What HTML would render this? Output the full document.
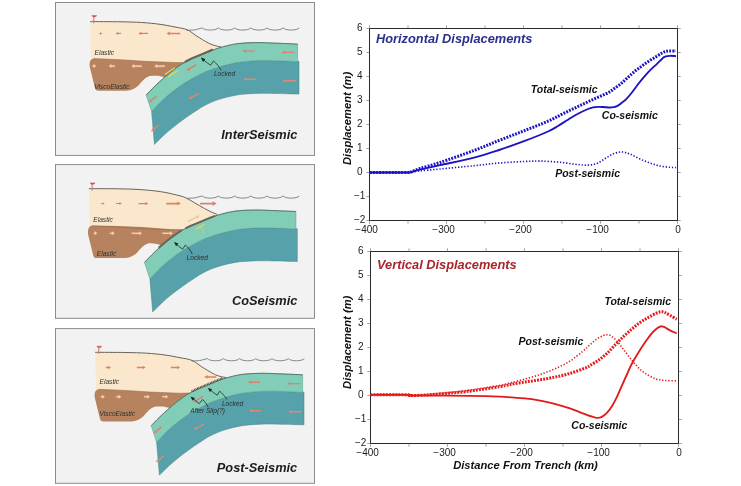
<!DOCTYPE html>
<html lang="en">
<head>
<meta charset="utf-8">
<title>Seismic cycle displacements</title>
<style>
html,body{margin:0;padding:0;background:#fff;}
body{width:741px;height:486px;overflow:hidden;}
svg{display:block;will-change:transform;}
text{font-family:"Liberation Sans",sans-serif;}
.tk{font-size:10px;fill:#222;}
.ttl{font-size:12.8px;font-weight:bold;font-style:italic;}
.lb{font-size:10.5px;font-weight:bold;font-style:italic;fill:#111;}
.ax{font-size:11.2px;font-weight:bold;font-style:italic;fill:#111;}
.sm{font-size:6.6px;font-style:italic;fill:#2c2f2f;}
.pt{font-size:12.8px;font-weight:bold;font-style:italic;fill:#1c1c1c;}
</style>
</head>
<body>
<svg width="741" height="486" viewBox="0 0 741 486">
<rect width="741" height="486" fill="#fff"/>
<rect x="55.5" y="2.5" width="259" height="152.9" fill="#f2f2f2" stroke="#8c8c8c" stroke-width="1"/>
<g transform="translate(0 0)">
<path d="M90.2 21.6C95.17 21.63 111.4 21.65 120 21.8C128.6 21.95 135.13 22.08 141.8 22.5C148.47 22.92 154.47 23.55 160 24.3C165.53 25.05 170.5 26.1 175 27C179.5 27.9 183.4 28.2 187 29.7C190.6 31.2 193.05 33.78 196.6 36C200.15 38.22 205.23 41.4 208.3 43C211.37 44.6 212.88 44.95 215 45.6C217.12 46.25 220 46.68 221 46.9L212 50.6L201.4 55L191 59.3L185 62.4L174 62.5L144.7 61.3L120.4 59.7L93 58.6L90.9 57.5Z" fill="#fbe7cb"/>
<path d="M90.2 21.6C95.17 21.63 111.4 21.65 120 21.8C128.6 21.95 135.13 22.08 141.8 22.5C148.47 22.92 154.47 23.55 160 24.3C165.53 25.05 170.5 26.1 175 27C179.5 27.9 183.4 28.2 187 29.7C190.6 31.2 193.05 33.78 196.6 36C200.15 38.22 205.23 41.4 208.3 43C211.37 44.6 212.88 44.95 215 45.6C217.12 46.25 220 46.68 221 46.9" fill="none" stroke="#6a635a" stroke-width="1"/>
<path d="M93.5 58.6L120.4 59.7L144.7 61.3L174 62.5L185 62.4L181.9 64L173 70.3L164.4 77.4C161 76 157 75.5 149.6 76.1C145 77.5 142 81.5 139 85C135 88.8 131 90.7 126.5 90.7L98.5 90.7C96 90.7 95.2 89 94.8 87.5L89.8 67C89.2 63 90 59 93.5 58.6Z" fill="#b6835e"/>
<path d="M93.5 58.6L120.4 59.7L144.7 61.3L174 62.5L185 62.4" fill="none" stroke="#8a6245" stroke-width="0.5"/>
<path d="M151.6 111.6C153.33 109.75 158.4 103.93 162 100.5C165.6 97.07 169.53 93.87 173.2 91C176.87 88.13 180.38 85.63 184 83.3C187.62 80.97 191.4 78.88 194.9 77C198.4 75.12 201.07 73.63 205 72C208.93 70.37 213.17 68.77 218.5 67.2C223.83 65.63 230.82 63.68 237 62.6C243.18 61.52 249.43 61.02 255.6 60.7C261.77 60.38 267 60.55 274 60.7C281 60.85 293.67 61.45 297.6 61.6L299 61.2L299 94.1L299 94.1C294.83 94 281.23 93.6 274 93.5C266.77 93.4 261.77 93.25 255.6 93.5C249.43 93.75 243.18 93.98 237 95C230.82 96.02 223.83 97.88 218.5 99.6C213.17 101.32 208.93 103.3 205 105.3C201.07 107.3 198.4 109.32 194.9 111.6C191.4 113.88 187.62 116.4 184 119C180.38 121.6 176.62 124.45 173.2 127.2C169.78 129.95 166.63 132.62 163.5 135.5C160.37 138.38 155.92 143 154.4 144.5Z" fill="#57a2aa" stroke="#3f8288" stroke-width="0.5"/>
<path d="M146.2 95C147.5 93.67 151.3 89.63 154 87C156.7 84.37 159.23 81.98 162.4 79.2C165.57 76.42 169.75 72.83 173 70.3C176.25 67.77 178.9 65.83 181.9 64C184.9 62.17 187.75 60.8 191 59.3C194.25 57.8 197.9 56.45 201.4 55C204.9 53.55 208.9 51.83 212 50.6C215.1 49.37 215.83 48.75 220 47.6C224.17 46.45 231.07 44.53 237 43.7C242.93 42.87 249.43 42.7 255.6 42.6C261.77 42.5 267 42.85 274 43.1C281 43.35 293.67 43.93 297.6 44.1L297.6 61.6L297.6 61.6C293.67 61.45 281 60.85 274 60.7C267 60.55 261.77 60.38 255.6 60.7C249.43 61.02 243.18 61.52 237 62.6C230.82 63.68 223.83 65.63 218.5 67.2C213.17 68.77 208.93 70.37 205 72C201.07 73.63 198.4 75.12 194.9 77C191.4 78.88 187.62 80.97 184 83.3C180.38 85.63 176.87 88.13 173.2 91C169.53 93.87 165.6 97.07 162 100.5C158.4 103.93 153.33 109.75 151.6 111.6Z" fill="#82cdb7" stroke="#4f9a8e" stroke-width="0.5"/>
<path d="M146.2 95C147.5 93.67 151.3 89.63 154 87C156.7 84.37 159.23 81.98 162.4 79.2C165.57 76.42 169.75 72.83 173 70.3C176.25 67.77 178.9 65.83 181.9 64C184.9 62.17 187.75 60.8 191 59.3C194.25 57.8 197.9 56.45 201.4 55C204.9 53.55 208.9 51.83 212 50.6C215.1 49.37 215.83 48.75 220 47.6C224.17 46.45 231.07 44.53 237 43.7C242.93 42.87 249.43 42.7 255.6 42.6C261.77 42.5 267 42.85 274 43.1C281 43.35 293.67 43.93 297.6 44.1" fill="none" stroke="#4a5a50" stroke-width="0.7"/>
<path d="M186.6 30.3Q195 30.7 202.2 27.9c2.6 2.9 13.6 2.9 16.2 0c2.6 2.9 13.6 2.9 16.2 0c2.6 2.9 13.6 2.9 16.2 0c2.6 2.9 13.6 2.9 16.2 0c2.6 2.9 13.6 2.9 16.2 0c2.6 2.9 13.6 2.9 16.2 0" fill="none" stroke="#747474" stroke-width="0.85" stroke-linejoin="round"/>
<path d="M93.8 23.3V16.4" stroke="#c97468" stroke-width="1" fill="none"/><path d="M91.9 15.5H96.7L96 16.5L94.6 16.9H93Z" fill="#cc5558" stroke="#cc5558" stroke-width="0.5" stroke-linejoin="round"/>
<text x="94.6" y="55" class="sm">Elastic</text>
<text x="94.2" y="88.6" class="sm">ViscoElastic</text>
<path d="M102.4 32.95H101V31.9L99.2 33.4L101 34.9V33.85H102.4Z" fill="#c9856a"/>
<path d="M121 32.85H118V31.9L115.6 33.4L118 34.9V33.95H121Z" fill="#d08670"/>
<path d="M148 32.7H141.3V31.7L138.3 33.4L141.3 35.1V34.1H148Z" fill="#dd806c"/>
<path d="M180.2 32.65H169.9V31.5L166.5 33.4L169.9 35.3V34.15H180.2Z" fill="#dd806c"/>
<path d="M95.6 65.3H94.6V64.1L92 66.1L94.6 68.1V66.9H95.6Z" fill="#f7dcc4" stroke="#dc9a7c" stroke-width="0.5"/>
<path d="M115 65.3H111.4V64.1L108.8 66.1L111.4 68.1V66.9H115Z" fill="#f7dcc4" stroke="#dc9a7c" stroke-width="0.5"/>
<path d="M141.8 65.3H134.1V64.1L131.5 66.1L134.1 68.1V66.9H141.8Z" fill="#f7dcc4" stroke="#dc9a7c" stroke-width="0.5"/>
<path d="M164.8 65.3H157.1V64.1L154.5 66.1L157.1 68.1V66.9H164.8Z" fill="#f7dcc4" stroke="#dc9a7c" stroke-width="0.5"/>
<path d="M254.6 50.4H245.8V49.4L242.6 51.1L245.8 52.8V51.8H254.6Z" fill="#dd806c"/>
<path d="M294.4 51.7H284.7V50.7L281.5 52.4L284.7 54.1V53.1H294.4Z" fill="#dd806c"/>
<path d="M255.6 78.6H246.7V77.6L243.5 79.3L246.7 81V80H255.6Z" fill="#d98a78"/>
<path d="M296.3 80H285.6V79L282.4 80.7L285.6 82.4V81.4H296.3Z" fill="#d98a78"/>
<path d="M197 67.1H188.8V66.1L185.6 67.8L188.8 69.5V68.5H197Z" fill="#dd806c" transform="rotate(-30 191.3 67.8)"/>
<path d="M199.5 95.5H191.2V94.5L188 96.2L191.2 97.9V96.9H199.5Z" fill="#d98a78" transform="rotate(-26 193.75 96.2)"/>
<path d="M157.6 98.7H150.8V97.7L147.6 99.4L150.8 101.1V100.1H157.6Z" fill="#dd806c" transform="rotate(-40 152.6 99.4)"/>
<path d="M159.8 127.7H153V126.7L149.8 128.4L153 130.1V129.1H159.8Z" fill="#d98a78" transform="rotate(-40 154.8 128.4)"/>
<path d="M164.8 74.6L174.9 67.7M167.9 77.2L177.7 70.5" stroke="#e8d552" stroke-width="1.2" fill="none"/>
<path d="M184.8 62L191 58.7L201.4 54.4L212.8 49.5" stroke="#6a625b" stroke-width="2" fill="none"/>
<path d="M221.3 70.3C219 66.5 216.5 63.5 213.5 60.9L210.6 65.2C208 63.6 205.4 61.5 203.2 59.7" stroke="#1f332e" stroke-width="0.85" fill="none" stroke-linejoin="round"/><path d="M200.9 57.6L205.3 59.1L203 61.9Z" fill="#15231f"/>
<text x="213.9" y="76" class="sm">Locked</text>
</g>
<text x="297.4" y="138.8" class="pt" text-anchor="end">InterSeismic</text>
<rect x="55.5" y="164.6" width="259" height="153.7" fill="#f2f2f2" stroke="#8c8c8c" stroke-width="1"/>
<g transform="translate(-1.7 167.4)">
<path d="M90.6 21.3C95.5 21.32 111.47 21.25 120 21.4C128.53 21.55 134.8 21.73 141.8 22.2C148.8 22.67 155.97 23.32 162 24.2C168.03 25.08 173.83 26.5 178 27.5C182.17 28.5 183.9 28.85 187 30.2C190.1 31.55 193.43 33.8 196.6 35.6C199.77 37.4 203.27 39.5 206 41C208.73 42.5 210.83 43.6 213 44.6C215.17 45.6 218 46.6 219 47L221 48.2L212 50.6L201.4 55L191 59.3L185 62.4L174 61.9L163.7 61L144.7 59.5L120.4 58.6L93 58.2L91.3 57Z" fill="#fbe7cb"/>
<path d="M90.6 21.3C95.5 21.32 111.47 21.25 120 21.4C128.53 21.55 134.8 21.73 141.8 22.2C148.8 22.67 155.97 23.32 162 24.2C168.03 25.08 173.83 26.5 178 27.5C182.17 28.5 183.9 28.85 187 30.2C190.1 31.55 193.43 33.8 196.6 35.6C199.77 37.4 203.27 39.5 206 41C208.73 42.5 210.83 43.6 213 44.6C215.17 45.6 218 46.6 219 47" fill="none" stroke="#6a635a" stroke-width="1"/>
<path d="M93.5 58.2L120.4 58.6L144.7 59.5L163.7 61L174 61.9L185.5 62.2L181.9 64.4L173 70.6L164 78C160 77 154 75.2 149.6 76.1C145 77.5 142 81.5 139 85C135 88.8 131 90.7 126.5 90.7L98.5 90.7C96 90.7 95.2 89 94.8 87.5L89.8 67C89.2 63 90 59 93.5 58.2Z" fill="#b6835e"/>
<path d="M93.5 58.6L120.4 59.7L144.7 61.3L174 62.5L185 62.4" fill="none" stroke="#8a6245" stroke-width="0.5"/>
<path d="M151.6 111.6C153.33 109.75 158.4 103.93 162 100.5C165.6 97.07 169.53 93.87 173.2 91C176.87 88.13 180.38 85.63 184 83.3C187.62 80.97 191.4 78.88 194.9 77C198.4 75.12 201.07 73.63 205 72C208.93 70.37 213.17 68.77 218.5 67.2C223.83 65.63 230.82 63.68 237 62.6C243.18 61.52 249.43 61.02 255.6 60.7C261.77 60.38 267 60.55 274 60.7C281 60.85 293.67 61.45 297.6 61.6L299 61.2L299 94.1L299 94.1C294.83 94 281.23 93.6 274 93.5C266.77 93.4 261.77 93.25 255.6 93.5C249.43 93.75 243.18 93.98 237 95C230.82 96.02 223.83 97.88 218.5 99.6C213.17 101.32 208.93 103.3 205 105.3C201.07 107.3 198.4 109.32 194.9 111.6C191.4 113.88 187.62 116.4 184 119C180.38 121.6 176.62 124.45 173.2 127.2C169.78 129.95 166.63 132.62 163.5 135.5C160.37 138.38 155.92 143 154.4 144.5Z" fill="#57a2aa" stroke="#3f8288" stroke-width="0.5"/>
<path d="M146.2 95C147.5 93.67 151.3 89.63 154 87C156.7 84.37 159.23 81.98 162.4 79.2C165.57 76.42 169.75 72.83 173 70.3C176.25 67.77 178.9 65.83 181.9 64C184.9 62.17 187.75 60.8 191 59.3C194.25 57.8 197.9 56.45 201.4 55C204.9 53.55 208.9 51.83 212 50.6C215.1 49.37 215.83 48.75 220 47.6C224.17 46.45 231.07 44.53 237 43.7C242.93 42.87 249.43 42.7 255.6 42.6C261.77 42.5 267 42.85 274 43.1C281 43.35 293.67 43.93 297.6 44.1L297.6 61.6L297.6 61.6C293.67 61.45 281 60.85 274 60.7C267 60.55 261.77 60.38 255.6 60.7C249.43 61.02 243.18 61.52 237 62.6C230.82 63.68 223.83 65.63 218.5 67.2C213.17 68.77 208.93 70.37 205 72C201.07 73.63 198.4 75.12 194.9 77C191.4 78.88 187.62 80.97 184 83.3C180.38 85.63 176.87 88.13 173.2 91C169.53 93.87 165.6 97.07 162 100.5C158.4 103.93 153.33 109.75 151.6 111.6Z" fill="#82cdb7" stroke="#4f9a8e" stroke-width="0.5"/>
<path d="M146.2 95C147.5 93.67 151.3 89.63 154 87C156.7 84.37 159.23 81.98 162.4 79.2C165.57 76.42 169.75 72.83 173 70.3C176.25 67.77 178.9 65.83 181.9 64C184.9 62.17 187.75 60.8 191 59.3C194.25 57.8 197.9 56.45 201.4 55C204.9 53.55 208.9 51.83 212 50.6C215.1 49.37 215.83 48.75 220 47.6C224.17 46.45 231.07 44.53 237 43.7C242.93 42.87 249.43 42.7 255.6 42.6C261.77 42.5 267 42.85 274 43.1C281 43.35 293.67 43.93 297.6 44.1" fill="none" stroke="#4a5a50" stroke-width="0.7"/>
<path d="M188.2 30.95Q196.6 31.35 203.8 28.55c2.6 2.9 13.6 2.9 16.2 0c2.6 2.9 13.6 2.9 16.2 0c2.6 2.9 13.6 2.9 16.2 0c2.6 2.9 13.6 2.9 16.2 0c2.6 2.9 13.6 2.9 16.2 0c2.6 2.9 13.6 2.9 16.2 0" fill="none" stroke="#747474" stroke-width="0.85" stroke-linejoin="round"/>
<path d="M93.8 23.3V16.4" stroke="#c97468" stroke-width="1" fill="none"/><path d="M91.9 15.5H96.7L96 16.5L94.6 16.9H93Z" fill="#cc5558" stroke="#cc5558" stroke-width="0.5" stroke-linejoin="round"/>
<text x="95" y="55" class="sm">Elastic</text>
<text x="98.5" y="88.4" class="sm">Elastic</text>
<path d="M102.5 35.8H104.3V34.8L106.3 36.2L104.3 37.6V36.6H102.5Z" fill="#dd806c"/>
<path d="M117.6 35.7H121V34.7L123.6 36.2L121 37.7V36.7H117.6Z" fill="#dd806c"/>
<path d="M140.3 35.55H147V34.5L150 36.2L147 37.9V36.85H140.3Z" fill="#dd806c"/>
<path d="M168 35.4H179V34.2L182.6 36.2L179 38.2V37H168Z" fill="#dd806c"/>
<path d="M201.8 35.25H214.2V33.8L218.4 36.2L214.2 38.6V37.15H201.8Z" fill="#dd806c"/>
<path d="M95.6 65H96.4V63.8L99 65.8L96.4 67.8V66.6H95.6Z" fill="#f7dcc4" stroke="#dc9a7c" stroke-width="0.5"/>
<path d="M111.6 65H113.8V63.8L116.4 65.8L113.8 67.8V66.6H111.6Z" fill="#f7dcc4" stroke="#dc9a7c" stroke-width="0.5"/>
<path d="M133.4 65H141V63.8L143.6 65.8L141 67.8V66.6H133.4Z" fill="#f7dcc4" stroke="#dc9a7c" stroke-width="0.5"/>
<path d="M164 65H171.8V63.8L174.4 65.8L171.8 67.8V66.6H164Z" fill="#f7dcc4" stroke="#dc9a7c" stroke-width="0.5"/>
<path d="M160.3 80.4L166 75.6L173 70.1L181.9 63.9L183.4 63" stroke="#6a625b" stroke-width="1.9" fill="none"/>
<path d="M187.2 61L191 59L201.4 54.7L212 50.3L216.8 48.4" stroke="#6a625b" stroke-width="1.9" fill="none"/>
<path d="M188.8 50.55H198.8V49.5L201.8 51.2L198.8 52.9V51.85H188.8Z" fill="#e6c698" transform="rotate(-27 195.3 51.2)"/>
<path d="M196.9 62.3L206.1 56.8" stroke="#e8d552" stroke-width="1.1" fill="none"/><path d="M202.9 58.8L205.3 66.2" stroke="#dcd47a" stroke-width="0.9" fill="none" opacity="0.7"/>
<g transform="translate(-1.5 1.2)"><path d="M195.4 85.5C193.6 81.6 191.4 78.8 188.6 76.4L185.8 80.6C183.3 78.8 181.2 77 179.4 75.4" stroke="#1f332e" stroke-width="0.85" fill="none" stroke-linejoin="round"/><path d="M177.2 73.3L181.6 74.8L179.3 77.6Z" fill="#15231f"/></g>
<text x="188.3" y="92.7" class="sm">Locked</text>
</g>
<text x="297.4" y="305.3" class="pt" text-anchor="end">CoSeismic</text>
<rect x="55.5" y="328.6" width="259" height="154.7" fill="#f2f2f2" stroke="#8c8c8c" stroke-width="1"/>
<g transform="translate(5 330.7)">
<path d="M90.2 21.6C95.17 21.63 111.4 21.65 120 21.8C128.6 21.95 135.13 22.08 141.8 22.5C148.47 22.92 154.47 23.55 160 24.3C165.53 25.05 170.5 26.1 175 27C179.5 27.9 183.4 28.2 187 29.7C190.6 31.2 193.05 33.78 196.6 36C200.15 38.22 205.23 41.4 208.3 43C211.37 44.6 212.88 44.95 215 45.6C217.12 46.25 220 46.68 221 46.9L212 50.6L201.4 55L191 59.3L185 62.4L174 62.5L144.7 61.3L120.4 59.7L93 58.6L90.9 57.5Z" fill="#fbe7cb"/>
<path d="M90.2 21.6C95.17 21.63 111.4 21.65 120 21.8C128.6 21.95 135.13 22.08 141.8 22.5C148.47 22.92 154.47 23.55 160 24.3C165.53 25.05 170.5 26.1 175 27C179.5 27.9 183.4 28.2 187 29.7C190.6 31.2 193.05 33.78 196.6 36C200.15 38.22 205.23 41.4 208.3 43C211.37 44.6 212.88 44.95 215 45.6C217.12 46.25 220 46.68 221 46.9" fill="none" stroke="#6a635a" stroke-width="1"/>
<path d="M93.5 58.6L120.4 59.7L144.7 61.3L174 62.5L185 62.4L181.9 64L173 70.3L164.4 77.4C161 76 157 75.5 149.6 76.1C145 77.5 142 81.5 139 85C135 88.8 131 90.7 126.5 90.7L98.5 90.7C96 90.7 95.2 89 94.8 87.5L89.8 67C89.2 63 90 59 93.5 58.6Z" fill="#b6835e"/>
<path d="M93.5 58.6L120.4 59.7L144.7 61.3L174 62.5L185 62.4" fill="none" stroke="#8a6245" stroke-width="0.5"/>
<path d="M151.6 111.6C153.33 109.75 158.4 103.93 162 100.5C165.6 97.07 169.53 93.87 173.2 91C176.87 88.13 180.38 85.63 184 83.3C187.62 80.97 191.4 78.88 194.9 77C198.4 75.12 201.07 73.63 205 72C208.93 70.37 213.17 68.77 218.5 67.2C223.83 65.63 230.82 63.68 237 62.6C243.18 61.52 249.43 61.02 255.6 60.7C261.77 60.38 267 60.55 274 60.7C281 60.85 293.67 61.45 297.6 61.6L299 61.2L299 94.1L299 94.1C294.83 94 281.23 93.6 274 93.5C266.77 93.4 261.77 93.25 255.6 93.5C249.43 93.75 243.18 93.98 237 95C230.82 96.02 223.83 97.88 218.5 99.6C213.17 101.32 208.93 103.3 205 105.3C201.07 107.3 198.4 109.32 194.9 111.6C191.4 113.88 187.62 116.4 184 119C180.38 121.6 176.62 124.45 173.2 127.2C169.78 129.95 166.63 132.62 163.5 135.5C160.37 138.38 155.92 143 154.4 144.5Z" fill="#57a2aa" stroke="#3f8288" stroke-width="0.5"/>
<path d="M146.2 95C147.5 93.67 151.3 89.63 154 87C156.7 84.37 159.23 81.98 162.4 79.2C165.57 76.42 169.75 72.83 173 70.3C176.25 67.77 178.9 65.83 181.9 64C184.9 62.17 187.75 60.8 191 59.3C194.25 57.8 197.9 56.45 201.4 55C204.9 53.55 208.9 51.83 212 50.6C215.1 49.37 215.83 48.75 220 47.6C224.17 46.45 231.07 44.53 237 43.7C242.93 42.87 249.43 42.7 255.6 42.6C261.77 42.5 267 42.85 274 43.1C281 43.35 293.67 43.93 297.6 44.1L297.6 61.6L297.6 61.6C293.67 61.45 281 60.85 274 60.7C267 60.55 261.77 60.38 255.6 60.7C249.43 61.02 243.18 61.52 237 62.6C230.82 63.68 223.83 65.63 218.5 67.2C213.17 68.77 208.93 70.37 205 72C201.07 73.63 198.4 75.12 194.9 77C191.4 78.88 187.62 80.97 184 83.3C180.38 85.63 176.87 88.13 173.2 91C169.53 93.87 165.6 97.07 162 100.5C158.4 103.93 153.33 109.75 151.6 111.6Z" fill="#82cdb7" stroke="#4f9a8e" stroke-width="0.5"/>
<path d="M146.2 95C147.5 93.67 151.3 89.63 154 87C156.7 84.37 159.23 81.98 162.4 79.2C165.57 76.42 169.75 72.83 173 70.3C176.25 67.77 178.9 65.83 181.9 64C184.9 62.17 187.75 60.8 191 59.3C194.25 57.8 197.9 56.45 201.4 55C204.9 53.55 208.9 51.83 212 50.6C215.1 49.37 215.83 48.75 220 47.6C224.17 46.45 231.07 44.53 237 43.7C242.93 42.87 249.43 42.7 255.6 42.6C261.77 42.5 267 42.85 274 43.1C281 43.35 293.67 43.93 297.6 44.1" fill="none" stroke="#4a5a50" stroke-width="0.7"/>
<path d="M186.6 30.3Q195 30.7 202.2 27.9c2.6 2.9 13.6 2.9 16.2 0c2.6 2.9 13.6 2.9 16.2 0c2.6 2.9 13.6 2.9 16.2 0c2.6 2.9 13.6 2.9 16.2 0c2.6 2.9 13.6 2.9 16.2 0c2.6 2.9 13.6 2.9 16.2 0" fill="none" stroke="#747474" stroke-width="0.85" stroke-linejoin="round"/>
<path d="M93.8 23.3V16.4" stroke="#c97468" stroke-width="1" fill="none"/><path d="M91.9 15.5H96.7L96 16.5L94.6 16.9H93Z" fill="#cc5558" stroke="#cc5558" stroke-width="0.5" stroke-linejoin="round"/>
<text x="94.6" y="53.8" class="sm">Elastic</text>
<text x="94.6" y="85.8" class="sm">ViscoElastic</text>
<path d="M100.9 36.15H103.2V35.1L106 36.8L103.2 38.5V37.45H100.9Z" fill="#dd806c"/>
<path d="M131.8 36.15H137.8V35.1L140.6 36.8L137.8 38.5V37.45H131.8Z" fill="#dd806c"/>
<path d="M165.8 36.15H172.2V35.1L175 36.8L172.2 38.5V37.45H165.8Z" fill="#dd806c"/>
<path d="M95.8 65.3H97.2V64.1L99.8 66.1L97.2 68.1V66.9H95.8Z" fill="#f7dcc4" stroke="#dc9a7c" stroke-width="0.5"/>
<path d="M111.2 65.3H113.7V64.1L116.3 66.1L113.7 68.1V66.9H111.2Z" fill="#f7dcc4" stroke="#dc9a7c" stroke-width="0.5"/>
<path d="M139 65.3H142.1V64.1L144.7 66.1L142.1 68.1V66.9H139Z" fill="#f7dcc4" stroke="#dc9a7c" stroke-width="0.5"/>
<path d="M157.2 65.3H160.6V64.1L163.2 66.1L160.6 68.1V66.9H157.2Z" fill="#f7dcc4" stroke="#dc9a7c" stroke-width="0.5"/>
<path d="M211.2 45.45H202.5V44.4L199.3 46.2L202.5 48V46.95H211.2Z" fill="#dd806c"/>
<path d="M255 50.88H246.2V49.88L243 51.58L246.2 53.28V52.28H255Z" fill="#dd806c"/>
<path d="M295.2 52.18H285.5V51.18L282.3 52.88L285.5 54.58V53.58H295.2Z" fill="#dd806c"/>
<path d="M256 79.4H247.1V78.4L243.9 80.1L247.1 81.8V80.8H256Z" fill="#d98a78"/>
<path d="M297.1 80.32H286.4V79.32L283.2 81.02L286.4 82.72V81.72H297.1Z" fill="#d98a78"/>
<path d="M198.92 67.9H190.72V66.9L187.52 68.6L190.72 70.3V69.3H198.92Z" fill="#dd806c" transform="rotate(-30 193.22 68.6)"/>
<path d="M199.5 95.5H191.2V94.5L188 96.2L191.2 97.9V96.9H199.5Z" fill="#d98a78" transform="rotate(-26 193.75 96.2)"/>
<path d="M157.6 98.7H150.8V97.7L147.6 99.4L150.8 101.1V100.1H157.6Z" fill="#dd806c" transform="rotate(-40 152.6 99.4)"/>
<path d="M159.8 127.7H153V126.7L149.8 128.4L153 130.1V129.1H159.8Z" fill="#d98a78" transform="rotate(-40 154.8 128.4)"/>
<path d="M186.6 60.7L191 58.4L201.4 54L212 49.6L217.6 47.3" stroke="#4a403a" stroke-width="2" stroke-dasharray="0.9 0.65" fill="none"/>
<path d="M222 68.8C219.6 65 217 62.4 214.6 60.5L212.3 64.5C209.6 62.8 207.2 61 205.2 59.2" stroke="#1f332e" stroke-width="0.85" fill="none" stroke-linejoin="round"/><path d="M202.8 57.2L207.2 58.6L204.9 61.4Z" fill="#15231f"/>
<path d="M203.3 76.7C201.6 73.4 199.8 70.8 197.6 68.8L194.2 73C191.8 71.2 189.6 69.4 187.9 67.8" stroke="#1f332e" stroke-width="0.85" fill="none" stroke-linejoin="round"/><path d="M185.5 65.8L189.9 67.2L187.6 70Z" fill="#15231f"/>
<text x="216.9" y="75" class="sm">Locked</text>
<text x="185.2" y="82.8" class="sm">After Slip(?)</text>
</g>
<text x="297.2" y="472" class="pt" text-anchor="end">Post-Seismic</text>
<rect x="369.5" y="28.5" width="308" height="192" fill="#fff" stroke="#2a2a2a" stroke-width="1"/>
<path d="M366.3 28.5H369.5M677.5 28.5h3.2M366.3 52.5H369.5M677.5 52.5h3.2M366.3 76.5H369.5M677.5 76.5h3.2M366.3 100.5H369.5M677.5 100.5h3.2M366.3 124.5H369.5M677.5 124.5h3.2M366.3 148.5H369.5M677.5 148.5h3.2M366.3 172.5H369.5M677.5 172.5h3.2M366.3 196.5H369.5M677.5 196.5h3.2M366.3 220.5H369.5M677.5 220.5h3.2M369.5 25.3V28.5M369.5 220.5v3.2M408 25.3V28.5M408 220.5v3.2M446.5 25.3V28.5M446.5 220.5v3.2M485 25.3V28.5M485 220.5v3.2M523.5 25.3V28.5M523.5 220.5v3.2M562 25.3V28.5M562 220.5v3.2M600.5 25.3V28.5M600.5 220.5v3.2M639 25.3V28.5M639 220.5v3.2M677.5 25.3V28.5M677.5 220.5v3.2" stroke="#666" stroke-width="0.6" fill="none"/>
<text x="359.7" y="31.4" text-anchor="middle" class="tk">6</text>
<text x="359.7" y="55.4" text-anchor="middle" class="tk">5</text>
<text x="359.7" y="79.4" text-anchor="middle" class="tk">4</text>
<text x="359.7" y="103.4" text-anchor="middle" class="tk">3</text>
<text x="359.7" y="127.4" text-anchor="middle" class="tk">2</text>
<text x="359.7" y="151.4" text-anchor="middle" class="tk">1</text>
<text x="359.7" y="175.4" text-anchor="middle" class="tk">0</text>
<text x="359.7" y="199.4" text-anchor="middle" class="tk">−1</text>
<text x="359.7" y="223.4" text-anchor="middle" class="tk">−2</text>
<text x="377.9" y="233.1" text-anchor="end" class="tk">−400</text>
<text x="454.9" y="233.1" text-anchor="end" class="tk">−300</text>
<text x="531.9" y="233.1" text-anchor="end" class="tk">−200</text>
<text x="608.9" y="233.1" text-anchor="end" class="tk">−100</text>
<text x="678" y="233.1" text-anchor="middle" class="tk">0</text>
<path d="M370 172.5C374.17 172.5 388.67 172.5 395 172.5C401.33 172.5 405.33 172.58 408 172.5C410.67 172.42 409 172.67 411 172C413 171.33 415.17 170.08 420 168.5C424.83 166.92 431 165.5 440 162.5C449 159.5 464.17 154.17 474 150.5C483.83 146.83 490.67 143.78 499 140.5C507.33 137.22 515.83 134.02 524 130.8C532.17 127.58 541.5 124.05 548 121.2C554.5 118.35 558 116.15 563 113.7C568 111.25 573 108.87 578 106.5C583 104.13 588 101.78 593 99.5C598 97.22 604.5 94.58 608 92.8C611.5 91.02 611.83 90.33 614 88.8C616.17 87.27 618.67 85.52 621 83.6C623.33 81.68 625.67 79.37 628 77.3C630.33 75.23 632.67 73.1 635 71.2C637.33 69.3 639.67 67.6 642 65.9C644.33 64.2 646.67 62.52 649 61C651.33 59.48 653.9 58.1 656 56.8C658.1 55.5 659.97 54.1 661.6 53.2C663.23 52.3 664.4 51.78 665.8 51.4C667.2 51.02 668.3 50.95 670 50.9C671.7 50.85 675 51.07 676 51.1" fill="none" stroke="#1a14c2" stroke-width="3" stroke-dasharray="1.85 1.25"/>
<path d="M370 172.5C374.17 172.5 388.67 172.5 395 172.5C401.33 172.5 405.33 172.55 408 172.5C410.67 172.45 409 172.47 411 172.2C413 171.93 415.17 171.43 420 170.9C424.83 170.37 431 169.87 440 169C449 168.13 464.17 166.7 474 165.7C483.83 164.7 490.67 163.7 499 163C507.33 162.3 517.17 161.82 524 161.5C530.83 161.18 534 160.97 540 161.1C546 161.23 553.33 161.68 560 162.3C566.67 162.92 575 164.35 580 164.8C585 165.25 587 165.3 590 165C593 164.7 595.33 164.17 598 163C600.67 161.83 603.33 159.57 606 158C608.67 156.43 611.33 154.6 614 153.6C616.67 152.6 619.33 151.93 622 152C624.67 152.07 627 152.83 630 154C633 155.17 636.67 157.5 640 159C643.33 160.5 646.67 161.83 650 163C653.33 164.17 656.67 165.28 660 166C663.33 166.72 667.33 167.03 670 167.3C672.67 167.57 675 167.55 676 167.6" fill="none" stroke="#1a14c2" stroke-width="1.6" stroke-dasharray="1.3 1.8" stroke-dashoffset="1.6"/>
<path d="M370 172.5C374.17 172.5 388.67 172.5 395 172.5C401.33 172.5 405.33 172.57 408 172.5C410.67 172.43 409 172.57 411 172.1C413 171.63 415.17 170.85 420 169.7C424.83 168.55 431 167.22 440 165.2C449 163.18 464.17 160.13 474 157.6C483.83 155.07 490.67 152.73 499 150C507.33 147.27 515.83 144.28 524 141.2C532.17 138.12 542.33 134.03 548 131.5C553.67 128.97 554.67 127.97 558 126C561.33 124.03 564.67 121.75 568 119.7C571.33 117.65 574.67 115.48 578 113.7C581.33 111.92 585.5 110.05 588 109C590.5 107.95 591.33 107.75 593 107.4C594.67 107.05 596.33 106.97 598 106.9C599.67 106.83 601 106.9 603 107C605 107.1 608.17 107.48 610 107.5C611.83 107.52 612.92 107.28 614 107.1C615.08 106.92 615.57 106.83 616.5 106.4C617.43 105.97 618.68 105.15 619.6 104.5C620.52 103.85 620.93 103.35 622 102.5C623.07 101.65 624.35 101.07 626 99.4C627.65 97.73 629.97 94.93 631.9 92.5C633.83 90.07 635.72 87.25 637.6 84.8C639.48 82.35 641.1 80.25 643.2 77.8C645.3 75.35 647.9 72.43 650.2 70.1C652.5 67.77 655 65.7 657 63.8C659 61.9 660.87 59.9 662.2 58.7C663.53 57.5 663.7 57.08 665 56.6C666.3 56.12 668.17 55.88 670 55.8C671.83 55.72 675 56.05 676 56.1" fill="none" stroke="#1a14c2" stroke-width="1.85" stroke-linejoin="round"/>
<text x="376" y="42.7" class="ttl" fill="#2b2f8e">Horizontal Displacements</text>
<text x="530.8" y="92.8" class="lb">Total-seismic</text>
<text x="601.8" y="119" class="lb">Co-seismic</text>
<text x="555.2" y="177.2" class="lb">Post-seismic</text>
<text transform="translate(351 118.4) rotate(-90)" text-anchor="middle" class="ax">Displacement (m)</text>
<rect x="370.5" y="251.5" width="308" height="192" fill="#fff" stroke="#2a2a2a" stroke-width="1"/>
<path d="M367.3 251.5H370.5M678.5 251.5h3.2M367.3 275.5H370.5M678.5 275.5h3.2M367.3 299.5H370.5M678.5 299.5h3.2M367.3 323.5H370.5M678.5 323.5h3.2M367.3 347.5H370.5M678.5 347.5h3.2M367.3 371.5H370.5M678.5 371.5h3.2M367.3 395.5H370.5M678.5 395.5h3.2M367.3 419.5H370.5M678.5 419.5h3.2M367.3 443.5H370.5M678.5 443.5h3.2M370.5 248.3V251.5M370.5 443.5v3.2M409 248.3V251.5M409 443.5v3.2M447.5 248.3V251.5M447.5 443.5v3.2M486 248.3V251.5M486 443.5v3.2M524.5 248.3V251.5M524.5 443.5v3.2M563 248.3V251.5M563 443.5v3.2M601.5 248.3V251.5M601.5 443.5v3.2M640 248.3V251.5M640 443.5v3.2M678.5 248.3V251.5M678.5 443.5v3.2" stroke="#666" stroke-width="0.6" fill="none"/>
<text x="360.7" y="254.4" text-anchor="middle" class="tk">6</text>
<text x="360.7" y="278.4" text-anchor="middle" class="tk">5</text>
<text x="360.7" y="302.4" text-anchor="middle" class="tk">4</text>
<text x="360.7" y="326.4" text-anchor="middle" class="tk">3</text>
<text x="360.7" y="350.4" text-anchor="middle" class="tk">2</text>
<text x="360.7" y="374.4" text-anchor="middle" class="tk">1</text>
<text x="360.7" y="398.4" text-anchor="middle" class="tk">0</text>
<text x="360.7" y="422.4" text-anchor="middle" class="tk">−1</text>
<text x="360.7" y="446.4" text-anchor="middle" class="tk">−2</text>
<text x="378.9" y="456.1" text-anchor="end" class="tk">−400</text>
<text x="455.9" y="456.1" text-anchor="end" class="tk">−300</text>
<text x="532.9" y="456.1" text-anchor="end" class="tk">−200</text>
<text x="609.9" y="456.1" text-anchor="end" class="tk">−100</text>
<text x="679" y="456.1" text-anchor="middle" class="tk">0</text>
<path d="M370.5 394.8C376.75 394.8 401.42 394.67 408 394.8C414.58 394.93 407.17 395.57 410 395.6C412.83 395.63 420 395.3 425 395C430 394.7 433.17 394.37 440 393.8C446.83 393.23 456 392.8 466 391.6C476 390.4 491.45 388 500 386.6C508.55 385.2 511.53 384.2 517.3 383.2C523.07 382.2 528.85 381.52 534.6 380.6C540.35 379.68 546.05 378.85 551.8 377.7C557.55 376.55 563.33 375.38 569.1 373.7C574.87 372.02 582.92 368.97 586.4 367.6C589.88 366.23 588.02 366.72 590 365.5C591.98 364.28 595.52 362.27 598.3 360.3C601.08 358.33 603.92 356.25 606.7 353.7C609.48 351.15 612.23 347.83 615 345C617.77 342.17 620.52 339.33 623.3 336.7C626.08 334.07 628.92 331.57 631.7 329.2C634.48 326.83 637.23 324.45 640 322.5C642.77 320.55 645.52 319.08 648.3 317.5C651.08 315.92 654.47 313.97 656.7 313C658.93 312.03 660.32 311.78 661.7 311.7C663.08 311.62 663.62 311.9 665 312.5C666.38 313.1 668.05 314.18 670 315.3C671.95 316.42 675.58 318.55 676.7 319.2" fill="none" stroke="#e41a1a" stroke-width="3" stroke-dasharray="1.85 1.25"/>
<path d="M370.5 394.8C376.75 394.8 401.42 394.67 408 394.8C414.58 394.93 407.17 395.6 410 395.6C412.83 395.6 420 395.17 425 394.8C430 394.43 433.17 394.1 440 393.4C446.83 392.7 456 391.95 466 390.6C476 389.25 491.45 386.88 500 385.3C508.55 383.72 511.53 382.6 517.3 381.1C523.07 379.6 528.85 378.12 534.6 376.3C540.35 374.48 546.05 372.65 551.8 370.2C557.55 367.75 563.92 364.77 569.1 361.6C574.28 358.43 579.42 354.02 582.9 351.2C586.38 348.38 587.7 346.7 590 344.7C592.3 342.7 594.48 340.73 596.7 339.2C598.92 337.67 601.63 336.25 603.3 335.5C604.97 334.75 605.45 334.65 606.7 334.7C607.95 334.75 609.13 334.78 610.8 335.8C612.47 336.82 614.62 338.57 616.7 340.8C618.78 343.03 620.8 346 623.3 349.2C625.8 352.4 628.92 356.67 631.7 360C634.48 363.33 637.23 366.65 640 369.2C642.77 371.75 645.52 373.63 648.3 375.3C651.08 376.97 653.92 378.33 656.7 379.2C659.48 380.07 661.67 380.23 665 380.5C668.33 380.77 674.75 380.75 676.7 380.8" fill="none" stroke="#e41a1a" stroke-width="1.6" stroke-dasharray="1.3 1.8" stroke-dashoffset="1.6"/>
<path d="M370.5 394.8C376.75 394.8 401.42 394.67 408 394.8C414.58 394.93 404.67 395.47 410 395.6C415.33 395.73 430 395.57 440 395.6C450 395.63 460 395.62 470 395.8C480 395.98 492.12 396.35 500 396.7C507.88 397.05 511.53 397.42 517.3 397.9C523.07 398.38 528.85 398.73 534.6 399.6C540.35 400.47 546.05 401.67 551.8 403.1C557.55 404.53 563.92 406.48 569.1 408.2C574.28 409.92 579.42 412.1 582.9 413.4C586.38 414.7 587.72 415.27 590 416C592.28 416.73 594.63 417.65 596.6 417.8C598.57 417.95 600.05 417.75 601.8 416.9C603.55 416.05 605.33 414.62 607.1 412.7C608.87 410.78 610.87 407.82 612.4 405.4C613.93 402.98 614.77 401.38 616.3 398.2C617.83 395.02 619.83 390.25 621.6 386.3C623.37 382.35 625.15 378.33 626.9 374.5C628.65 370.67 629.92 367.38 632.1 363.3C634.28 359.22 637.57 353.88 640 350C642.43 346.12 644.48 343.05 646.7 340C648.92 336.95 651.5 333.7 653.3 331.7C655.1 329.7 656.38 328.83 657.5 328C658.62 327.17 659.25 326.98 660 326.7C660.75 326.42 661.33 326.27 662 326.3C662.67 326.33 663.33 326.62 664 326.9C664.67 327.18 665 327.43 666 328C667 328.57 668.22 329.42 670 330.3C671.78 331.18 675.58 332.8 676.7 333.3" fill="none" stroke="#e41a1a" stroke-width="1.85" stroke-linejoin="round"/>
<text x="377" y="269.4" class="ttl" fill="#a8262c">Vertical Displacements</text>
<text x="604.4" y="304.7" class="lb">Total-seismic</text>
<text x="518.6" y="344.5" class="lb">Post-seismic</text>
<text x="571.3" y="428.8" class="lb">Co-seismic</text>
<text transform="translate(351 342.3) rotate(-90)" text-anchor="middle" class="ax">Displacement (m)</text>
<text x="525.5" y="468.9" text-anchor="middle" class="ax">Distance From Trench (km)</text>
</svg>
</body>
</html>
